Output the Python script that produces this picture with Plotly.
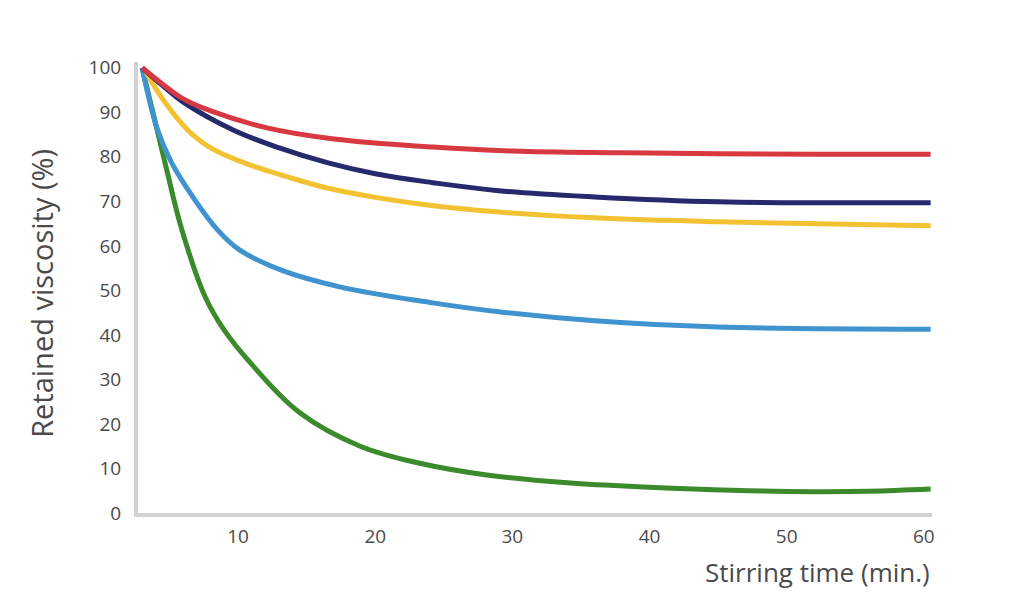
import plotly.graph_objs as go

# values
red_x = [3, 4.5, 6, 8, 12.1, 17, 24.2, 30, 38, 45, 52, 60.5]
red_y = [100, 96.3, 93, 90.3, 86.5, 84.0, 82.2, 81.3, 80.9, 80.7, 80.6, 80.6]

navy_x = [3, 4.5, 6, 9.6, 13, 16.5, 20, 24.2, 29, 36, 45, 60.5]
navy_y = [100, 96, 92.3, 86.1, 82, 78.7, 76.2, 74.2, 72.4, 71, 69.9, 69.7]

yellow_x = [3.3, 4.5, 6.3, 8, 10.4, 13.5, 16.5, 20, 23.8, 29, 36, 45, 60.5]
yellow_y = [99, 93, 86.1, 82, 78.7, 75.6, 73, 70.9, 69.2, 67.6, 66.3, 65.4, 64.5]

blue_x = [3, 4.1, 5.1, 6.7, 8.5, 10.1, 13.1, 17.4, 24.2, 29, 36, 45, 60.5]
blue_y = [100, 86.3, 79, 71, 63.6, 59.1, 54.6, 50.8, 47.2, 45.2, 43.2, 41.8, 41.3]

green_x = [3, 4.1, 4.8, 5.9, 7.6, 9, 10.9, 14.5, 18.9, 23.5, 28, 34, 40, 46, 52, 56, 60.5]
green_y = [100, 86, 77, 63.6, 48.5, 41, 33.7, 22.5, 15.0, 11.0, 8.6, 6.8, 5.8, 5.1, 4.8, 4.9, 5.4]

x_ticks = [10, 20, 30, 40, 50, 60]
y_ticks = [0, 10, 20, 30, 40, 50, 60, 70, 80, 90, 100]

series = [
    (green_x, green_y, '#3b8a2c'),
    (blue_x, blue_y, '#3f93cf'),
    (yellow_x, yellow_y, '#f2c233'),
    (navy_x, navy_y, '#252a6c'),
    (red_x, red_y, '#d8383f'),
]

fig = go.Figure()
for xs, ys, col in series:
    fig.add_trace(go.Scatter(
        x=xs, y=ys, mode='lines',
        line=dict(color=col, width=5, shape='spline', smoothing=1.1),
        showlegend=False, hoverinfo='skip'
    ))

font_name = 'Open Sans'
txt_col = '#4a4a4a'
fig.update_layout(
    width=1024, height=605,
    margin=dict(l=130, r=100, t=54, b=100),
    paper_bgcolor='white', plot_bgcolor='white',
    font=dict(family=font_name, color=txt_col, size=19),
)
fig.update_xaxes(
    range=[2.7, 60.6], tickvals=x_ticks, showgrid=False, zeroline=False,
    showline=True, linecolor='#d2d2d2', linewidth=4,
    ticks='', ticklabelstandoff=3, tickfont=dict(size=19, color=txt_col)
)
fig.update_yaxes(
    range=[0, 101.3], tickvals=y_ticks, showgrid=False, zeroline=False,
    showline=True, linecolor='#d2d2d2', linewidth=4,
    ticks='', ticklabelstandoff=9, tickfont=dict(size=19, color=txt_col)
)

fig.add_annotation(
    text='Stirring time (min.)', xref='paper', yref='paper',
    x=1.0, y=-0.13, xanchor='right', yanchor='middle', showarrow=False,
    font=dict(size=26, color=txt_col, family=font_name)
)
fig.add_annotation(
    text='Retained viscosity (%)', xref='paper', yref='paper',
    x=-0.121, y=0.488, xanchor='center', yanchor='middle', showarrow=False,
    textangle=-90, font=dict(size=29, color=txt_col, family=font_name)
)

fig.write_html('out.html')
